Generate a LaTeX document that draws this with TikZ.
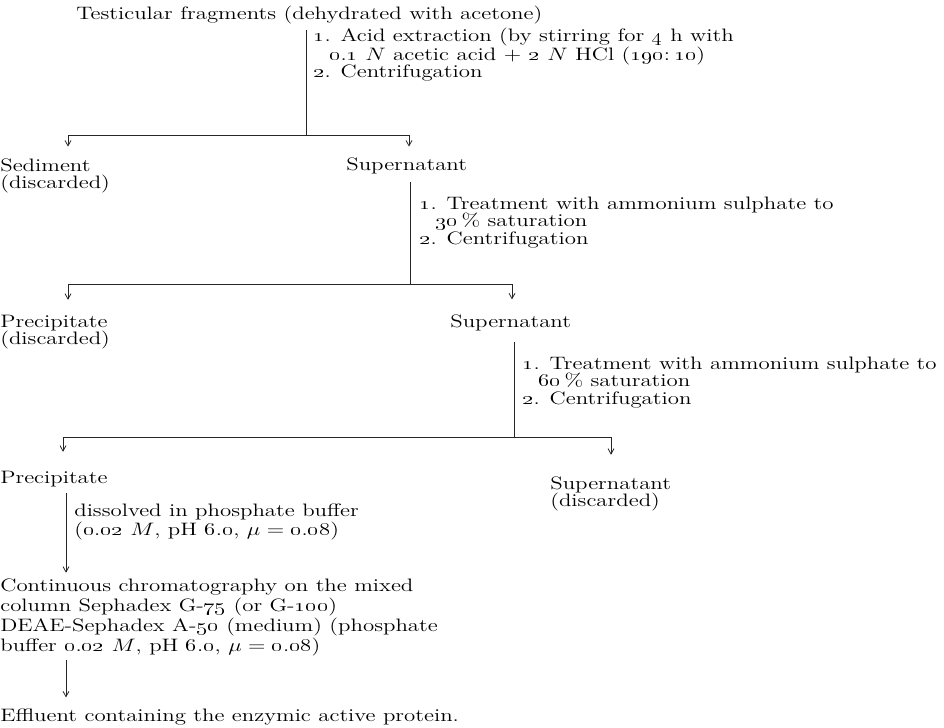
\RequirePackage{fix-cm}
\documentclass[tikz,border=0pt]{standalone}
\usepackage{amsmath}
\usetikzlibrary{arrows.meta}
\newcommand{\os}[1]{\oldstylenums{#1}}
\tikzset{
  stage/.style={
    anchor=base west,
    inner sep=0pt,
    align=left,
    xscale=1.27,
    font=\fontsize{13.5}{13.1}\selectfont
  },
  flow/.style={
    line width=0.6pt,
    draw=black!85
  },
  drop/.style={
    flow,
    -{Straight Barb[length=4pt,width=4.5pt]}
  },
}

\begin{document}
\begin{tikzpicture}[x=0.75pt,y=-0.75pt]
  \useasboundingbox (0,0) rectangle (944,727);
  % stages and treatments (multi-line nodes sit on their last line)
  \node[stage] (frag) at (76,20) {Testicular fragments (dehydrated with acetone)};
  \node[stage] (acid) at (313,78) {\os{1}. Acid extraction (by stirring for \os{4} h with\\
    \hspace*{0.7em}\os{0}.\os{1} $N$ acetic acid $+$ \os{2} $N$ HCl (\os{190}:\,\os{10})\\
    \os{2}. Centrifugation};
  \node[stage] (sed) at (0,188.5) {Sediment\\(discarded)};
  \node[stage] (sup1) at (346,171) {Supernatant};
  \node[stage] (amm1) at (419,244) {\os{1}. Treatment with ammonium sulphate to\\
    \hspace*{0.7em}\os{30}\,\% saturation\\
    \os{2}. Centrifugation};
  \node[stage] (pre1) at (0,344.5) {Precipitate\\(discarded)};
  \node[stage] (sup2) at (450,327) {Supernatant};
  \node[stage] (amm2) at (522,404) {\os{1}. Treatment with ammonium sulphate to\\
    \hspace*{0.7em}\os{60}\,\% saturation\\
    \os{2}. Centrifugation};
  \node[stage] (pre2) at (0,483) {Precipitate};
  \node[stage] (sup3) at (550,506.5) {Supernatant\\(discarded)};
  \node[stage,font=\fontsize{13.5}{14.2}\selectfont] (diss) at (74,535) {dissolved in phosphate buffer\\
    (\os{0}.\os{02} $M$, pH \os{6}.\os{0}, $\mu={}$\os{0}.\os{08})};
  \node[stage,font=\fontsize{13.5}{15}\selectfont] (chrom) at (0,651) {Continuous chromatography on the mixed\\
    column Sephadex G-\os{75} (or G-\os{100})\\
    DEAE-Sephadex A-\os{50} (medium) (phosphate\\
    buffer \os{0}.\os{02} $M$, pH \os{6}.\os{0}, $\mu={}$\os{0}.\os{08})};
  \node[stage] (eff) at (0,721) {Effluent containing the enzymic active protein.};

  % branch points
  \coordinate (j1) at (306,135);
  \coordinate (j1l) at (68,135);
  \coordinate (j1r) at (409,135);
  \coordinate (j2) at (410,284);
  \coordinate (j2l) at (68,284);
  \coordinate (j2r) at (512,284);
  \coordinate (j3) at (514,437);
  \coordinate (j3l) at (63,437);
  \coordinate (j3r) at (611,437);
  \coordinate (k1) at (66,493);
  \coordinate (k2) at (66,660);

  \draw[flow,shorten <=4pt] (frag.south -| j1) -- (j1);
  \draw[flow,shorten <=5.5pt] (sup1.south -| j2) -- (j2);
  \draw[flow,shorten <=8.5pt] (sup2.south -| j3) -- (j3);
  \foreach \j in {j1,j2,j3}
    \draw[flow] (\j l) -- (\j r);
  \foreach \j/\n/\g in {j1l/sed/8.6pt,j1r/sup1/8.6pt,j2l/pre1/11pt,j2r/sup2/11pt,j3l/pre2/14pt,j3r/sup3/16pt}
    \draw[drop,shorten >=\g] (\j) -- (\j |- \n.north);
  \draw[drop,shorten >=4pt] (k1) -- (k1 |- chrom.north);
  \draw[drop,shorten >=8pt] (k2) -- (k2 |- eff.north);
\end{tikzpicture}
\end{document}
